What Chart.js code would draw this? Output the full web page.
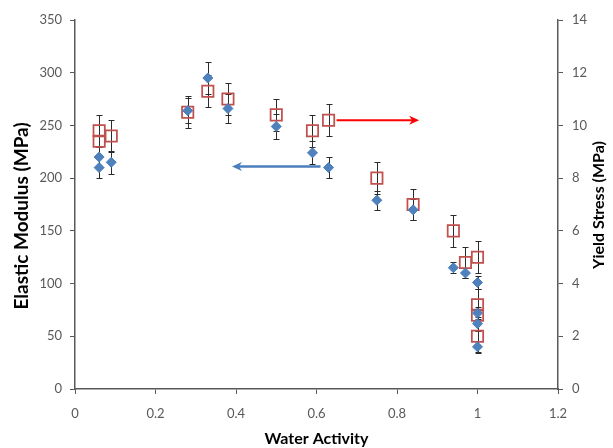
<!DOCTYPE html>
<html>
<head>
<meta charset="utf-8">
<script src="https://cdn.jsdelivr.net/npm/chart.js@4.4.0/dist/chart.umd.js"></script>
<style>
  html, body { margin: 0; padding: 0; background: #fff; }
  #wrap { width: 613px; height: 448px; }
</style>
</head>
<body>
<div id="wrap"><canvas id="chart" width="613" height="448"></canvas></div>
<script>
// measurements per sample: water activity, modulus (left axis), yield stress (right axis)
const waterActivity = [0.06, 0.06, 0.09, 0.28, 0.33, 0.38, 0.50, 0.59, 0.63, 0.75, 0.84, 0.94, 0.97, 1.00, 1.00, 1.00, 1.00];
const elasticModulus = [220, 210, 215, 264, 295, 266, 249, 224, 210, 179, 170, 115, 110, 101, 72, 62, 40];
const modulusError = [10, 10, 11, 12, 15, 14, 12, 11, 10, 9, 10, 5, 5, 6, 6, 6, 6];
const yieldStress = [9.8, 9.4, 9.6, 10.5, 11.3, 11.0, 10.4, 9.8, 10.2, 8.0, 7.0, 6.0, 4.8, 5.0, 3.2, 2.8, 2.0];
const stressError = [0.6, 0.6, 0.6, 0.6, 0.6, 0.6, 0.6, 0.6, 0.6, 0.6, 0.6, 0.6, 0.6, 0.6, 0.6, 0.6, 0.6];

const xTickLabels = ['0', '0.2', '0.4', '0.6', '0.8', '1', '1.2'];
const modulusTickLabels = ['0', '50', '100', '150', '200', '250', '300', '350'];
const stressTickLabels = ['0', '2', '4', '6', '8', '10', '12', '14'];

// arrows pointing each series to its axis (x from -> to, at a fixed y)
const modulusArrowX = [0.61, 0.39];
const modulusArrowY = 211;
const stressArrowX = [0.65, 0.855];
const stressArrowY = 10.2;

const FONT = "Lato, 'Open Sans', sans-serif";
const AXIS_GREY = '#595959';

const errorBars = {
    id: 'errorBars',
    beforeDatasetsDraw(chart) {
        const ctx = chart.ctx;
        const xs = chart.scales.x;
        ctx.save();
        ctx.strokeStyle = '#2b2b2b';
        ctx.lineWidth = 1;
        chart.data.datasets.forEach(ds => {
            const ys = chart.scales[ds.yAxisID];
            ds.data.forEach((p, i) => {
                const px = Math.round(xs.getPixelForValue(p.x)) + 0.5;
                const top = Math.round(ys.getPixelForValue(p.y + ds.errors[i])) + 0.5;
                const bot = Math.round(ys.getPixelForValue(p.y - ds.errors[i])) + 0.5;
                ctx.beginPath();
                ctx.moveTo(px, top);
                ctx.lineTo(px, bot);
                ctx.moveTo(px - 3, top);
                ctx.lineTo(px + 3, top);
                ctx.moveTo(px - 3, bot);
                ctx.lineTo(px + 3, bot);
                ctx.stroke();
            });
        });
        ctx.restore();
    }
};

function drawArrow(ctx, x0, x1, y, color, width) {
    const dir = Math.sign(x1 - x0);
    ctx.save();
    ctx.strokeStyle = color;
    ctx.fillStyle = color;
    ctx.lineWidth = width;
    ctx.beginPath();
    ctx.moveTo(x0, y);
    ctx.lineTo(x1 - dir * 6, y);
    ctx.stroke();
    ctx.beginPath();
    ctx.moveTo(x1, y);
    ctx.lineTo(x1 - dir * 10, y - 4.5);
    ctx.lineTo(x1 - dir * 7, y);
    ctx.lineTo(x1 - dir * 10, y + 4.5);
    ctx.closePath();
    ctx.fill();
    ctx.restore();
}

const annotations = {
    id: 'annotations',
    afterDraw(chart) {
        const ctx = chart.ctx;
        const { x, y, y2 } = chart.scales;
        drawArrow(ctx, x.getPixelForValue(modulusArrowX[0]), x.getPixelForValue(modulusArrowX[1]),
            y.getPixelForValue(modulusArrowY), '#4A7EBB', 2.5);
        drawArrow(ctx, x.getPixelForValue(stressArrowX[0]), x.getPixelForValue(stressArrowX[1]),
            y2.getPixelForValue(stressArrowY), '#FF0000', 2);

        // axis titles, both vertical ones read bottom to top
        ctx.save();
        ctx.fillStyle = '#000';
        ctx.textAlign = 'center';
        ctx.textBaseline = 'middle';
        ctx.font = `bold 16px ${FONT}`;
        ctx.fillText('Water Activity', (x.left + x.right) / 2, 439);

        ctx.font = `bold 19px ${FONT}`;
        ctx.translate(22, 216);
        ctx.rotate(-Math.PI / 2);
        ctx.fillText('Elastic Modulus (MPa)', 0, 0);
        ctx.restore();

        ctx.save();
        ctx.fillStyle = '#000';
        ctx.textAlign = 'center';
        ctx.textBaseline = 'middle';
        ctx.font = `bold 16px ${FONT}`;
        ctx.translate(599, 205);
        ctx.rotate(-Math.PI / 2);
        ctx.fillText('Yield Stress (MPa)', 0, 0);
        ctx.restore();
    }
};

function axisStyle(labels, pad) {
    return {
        ticks: {
            color: AXIS_GREY,
            font: { family: FONT, size: 13 },
            padding: pad,
            callback: (v, i) => labels[i]
        },
        grid: {
            drawOnChartArea: false,
            drawTicks: true,
            tickLength: 5,
            color: AXIS_GREY,
            lineWidth: 1
        },
        border: { display: true, color: AXIS_GREY, width: 1.5 }
    };
}

new Chart(document.getElementById('chart').getContext('2d'), {
    type: 'scatter',
    data: {
        datasets: [{
            label: 'Elastic Modulus',
            data: waterActivity.map((x, i) => ({ x, y: elasticModulus[i] })),
            errors: modulusError,
            yAxisID: 'y',
            pointStyle: 'rectRot',
            pointRadius: 5,
            backgroundColor: '#4F81BD',
            borderColor: '#4A7EBB',
            borderWidth: 1
        }, {
            label: 'Yield Stress',
            data: waterActivity.map((x, i) => ({ x, y: yieldStress[i] })),
            errors: stressError,
            yAxisID: 'y2',
            pointStyle: 'rect',
            pointRadius: 8,
            backgroundColor: 'rgba(0,0,0,0)',
            borderColor: '#C0504D',
            borderWidth: 1.75
        }]
    },
    options: {
        responsive: false,
        animation: false,
        layout: { padding: { top: 20, left: 0, right: 0, bottom: 0 } },
        plugins: { legend: { display: false }, tooltip: { enabled: false } },
        scales: {
            x: {
                type: 'linear', position: 'bottom', min: 0, max: 1.2,
                ...axisStyle(xTickLabels, 12),
                afterFit: s => { s.height = 59; }
            },
            y: {
                type: 'linear', position: 'left', min: 0, max: 350,
                ...axisStyle(modulusTickLabels, 8),
                afterFit: s => { s.width = 75; }
            },
            y2: {
                type: 'linear', position: 'right', min: 0, max: 14,
                ...axisStyle(stressTickLabels, 9),
                afterFit: s => { s.width = 55; }
            }
        }
    },
    plugins: [errorBars, annotations]
});
</script>
</body>
</html>
